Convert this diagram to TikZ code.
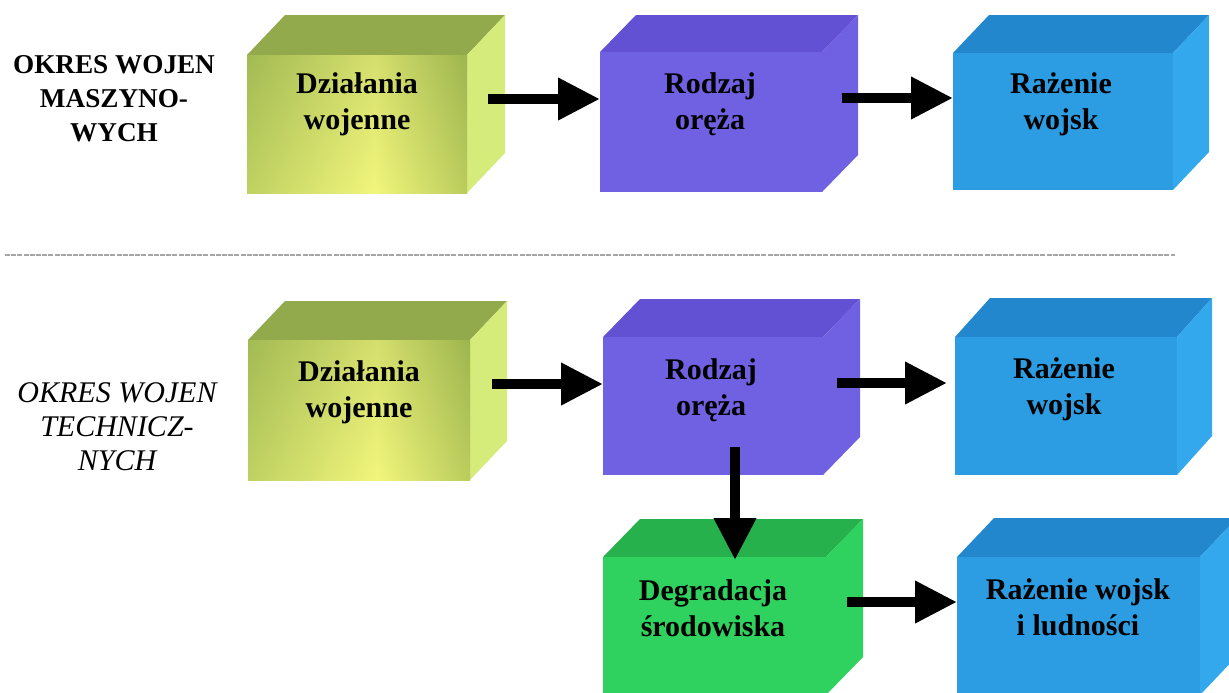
\documentclass[tikz,border=0pt]{standalone}
\usepackage{fontspec}
\setmainfont{Liberation Serif}
\usetikzlibrary{arrows.meta,calc}

% palette
\definecolor{yelEdgeL}{HTML}{AAC257}
\definecolor{yelMid}{HTML}{F2F67C}
\definecolor{yelEdgeR}{HTML}{A3BB50}
\definecolor{yelTop}{HTML}{93AA4C}
\definecolor{yelSide}{HTML}{D5EB7A}
\definecolor{vioFront}{HTML}{7060E2}
\definecolor{vioTop}{HTML}{6251D2}
\definecolor{bluFront}{HTML}{2C9DE2}
\definecolor{bluTop}{HTML}{2387CE}
\definecolor{bluSide}{HTML}{34A8EC}
\definecolor{grnFront}{HTML}{2FD25E}
\definecolor{grnTop}{HTML}{27B14D}

\pgfdeclarehorizontalshading{yelfront}{100bp}{color(0bp)=(yelEdgeL); color(25bp)=(yelEdgeL); color(54bp)=(yelMid); color(75bp)=(yelEdgeR); color(100bp)=(yelEdgeR)}

\tikzset{
  yel top/.style={fill=yelTop},
  yel side/.style={fill=yelSide},
  yel front/.style={shade, shading=yelfront,
    postaction={top color=yelTop, bottom color=yelMid, opacity=0.3}},
  vio top/.style={fill=vioTop},
  vio side/.style={fill=vioFront},
  vio front/.style={fill=vioFront},
  blu top/.style={fill=bluTop},
  blu side/.style={fill=bluSide},
  blu front/.style={fill=bluFront},
  grn top/.style={fill=grnTop},
  grn side/.style={fill=grnFront},
  grn front/.style={fill=grnFront},
  boxtext/.style={font=\fontsize{15}{18}\selectfont\bfseries, align=center, inner sep=0pt},
  eratext/.style={align=center, inner sep=0pt},
  arr/.style={line width=5pt, -{Triangle[width=20pt,length=21pt]}},
  divider/.style={gray!70, line width=0.6pt, dash pattern=on 2.5pt off 0.6pt}
}

% \cuboid{name}{x0}{y0}{x1}{y1}{dx}{dy}{colour set}
% (x0,y0)-(x1,y1): front face, (dx,dy): depth of the top and side faces
\newcommand\cuboid[8]{%
  \fill[#8 top] (#2,#3) -- (#2+#6,#3-#7) -- (#4+#6,#3-#7) -- (#4,#3) -- cycle;
  \fill[#8 side] (#4,#3) -- (#4+#6,#3-#7) -- (#4+#6,#5-#7) -- (#4,#5) -- cycle;
  \node[#8 front, anchor=north west, inner sep=0pt, outer sep=0pt,
        minimum width={(#4-#2)*0.5pt}, minimum height={(#5-#3)*0.5pt}] (#1) at (#2,#3) {};
}

\begin{document}
\begin{tikzpicture}[x=0.5pt, y=-0.5pt]
  \clip (0,0) rectangle (1229,692);

  % era labels
  \node[eratext, font=\fontsize{13.6}{17}\selectfont\bfseries] (era1) at (114,99) {OKRES WOJEN\\MASZYNO-\\WYCH};
  \node[eratext, font=\fontsize{15}{17}\selectfont\itshape] (era2) at (117,427) {OKRES WOJEN\\TECHNICZ-\\NYCH};

  % divider between the two periods
  \draw[divider] (5,255) -- (1175,255);

  % upper row
  \cuboid{f1}{247}{55}{467}{193}{38}{40}{yel}
  \cuboid{f2}{600}{52}{822}{192}{36}{37}{vio}
  \cuboid{f3}{953}{53}{1173}{190}{36}{38}{blu}

  % lower rows
  \cuboid{f4}{248}{340}{470}{480}{37}{39}{yel}
  \cuboid{f5}{603}{337}{823}{475}{37}{38}{vio}
  \cuboid{f6}{955}{337}{1177}{475}{35}{39}{blu}
  \cuboid{f7}{603}{557}{826}{695}{37}{38}{grn}
  \cuboid{f8}{957}{557}{1200}{695}{37}{39}{blu}

  % box captions
  \node[boxtext] (t1) at (357,104) {Działania\\wojenne};
  \node[boxtext] (t2) at (710,104) {Rodzaj\\oręża};
  \node[boxtext] (t3) at (1061,104) {Rażenie\\wojsk};
  \node[boxtext] (t4) at (359,392) {Działania\\wojenne};
  \node[boxtext] (t5) at (711,390) {Rodzaj\\oręża};
  \node[boxtext] (t6) at (1064,389) {Rażenie\\wojsk};
  \node[boxtext] (t7) at (713,608) {Degradacja\\środowiska};
  \node[boxtext] (t8) at (1078,607) {Rażenie wojsk\\i ludności};

  % connectors
  \coordinate (s1) at ($(f1.north east)+(21,44)$);
  \coordinate (s2) at ($(f2.north east)+(20,46)$);
  \coordinate (s3) at ($(f4.north east)+(22,44)$);
  \coordinate (s4) at ($(f5.north east)+(14,46)$);
  \coordinate (s5) at ($(f5.south)+(22,-28)$);
  \coordinate (s6) at ($(f7.north east)+(21,45)$);
  \draw[arr] (s1) -- (s1 -| f2.west);
  \draw[arr] (s2) -- (s2 -| f3.west);
  \draw[arr] (s3) -- (s3 -| f5.west);
  \draw[arr, shorten >=4pt] (s4) -- (s4 -| f6.west);
  \draw[arr, shorten >=-1.5pt] (s5) -- (s5 |- f7.north);
  \draw[arr] (s6) -- (s6 -| f8.west);
\end{tikzpicture}
\end{document}
